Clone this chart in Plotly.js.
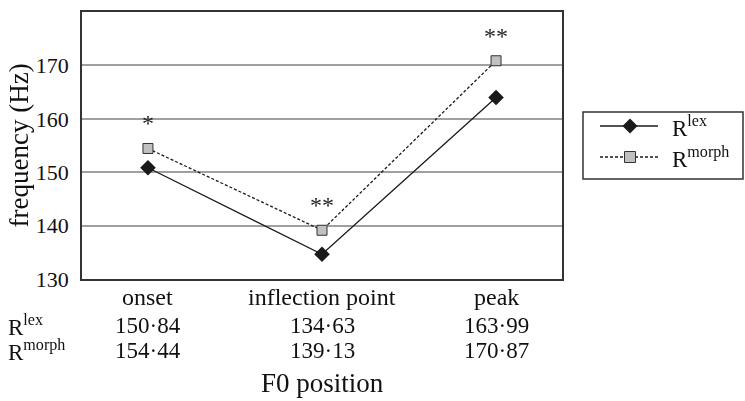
<!DOCTYPE html>
<html>
<head>
<meta charset="utf-8">
<script src="https://cdn.plot.ly/plotly-3.0.1.min.js"></script>
<style>
html,body{margin:0;padding:0;background:#fff;}
#chart{width:745px;height:401px;}
#chart .main-svg{opacity:0.999;will-change:opacity;}
#chart .modebar, #chart .modebar-container{opacity:0 !important;}
</style>
</head>
<body>
<div id="chart"></div>
<script>
const categories = ["onset", "inflection point", "peak"];
const rLex = [150.84, 134.63, 163.99];
const rMorph = [154.44, 139.13, 170.87];
const significance = ["*", "**", "**"];
const seriesNames = ["R<sup>lex</sup>", "R<sup>morph</sup>"];
const yTicks = [130, 140, 150, 160, 170, 180];

const FONT = "Liberation Serif";
const TXT = "#111111";
const xIdx = categories.map((c, i) => i);
const fmt = v => v.toFixed(2).replace('.', '\u00B7');

const PL = 82, PR = 562, PT = 12, PB = 279;
const px = x => (x - PL) / (PR - PL);
const py = y => (PB - y) / (PB - PT);

const traces = [
  {x: xIdx, y: rLex, name: seriesNames[0], type: "scatter", mode: "lines+markers",
    line: {color: "#1a1a1a", width: 1.3}, marker: {symbol: "diamond", size: 12, color: "#1a1a1a", line: {width: 0}}},
  {x: xIdx, y: rMorph, name: seriesNames[1], type: "scatter", mode: "lines+markers",
    line: {color: "#1a1a1a", width: 1.3, dash: "3px,2px"},
    marker: {symbol: "square", size: 10, color: "#c0c0c0", line: {color: "#333", width: 1}}}
];

const annotations = [];
categories.forEach((c, i) => {
  annotations.push({x: i, y: rMorph[i], xref: "x", yref: "y", text: significance[i],
    showarrow: false, yshift: 25, font: {family: FONT, size: 24, color: "#222222"}});
});
const rowY = [py(297), py(325), py(350)];
categories.forEach((c, i) => {
  annotations.push({x: i, y: rowY[0], xref: "x", yref: "paper", text: c, showarrow: false,
    yanchor: "middle", font: {family: FONT, size: 24, color: TXT}});
  annotations.push({x: i, y: rowY[1], xref: "x", yref: "paper", text: fmt(rLex[i]), showarrow: false,
    yanchor: "middle", font: {family: FONT, size: 23, color: TXT}});
  annotations.push({x: i, y: rowY[2], xref: "x", yref: "paper", text: fmt(rMorph[i]), showarrow: false,
    yanchor: "middle", font: {family: FONT, size: 23, color: TXT}});
});
annotations.push({x: px(6), y: rowY[1], xref: "paper", yref: "paper", xanchor: "left", text: seriesNames[0],
  showarrow: false, yanchor: "middle", font: {family: FONT, size: 23, color: TXT}});
annotations.push({x: px(6), y: rowY[2], xref: "paper", yref: "paper", xanchor: "left", text: seriesNames[1],
  showarrow: false, yanchor: "middle", font: {family: FONT, size: 23, color: TXT}});
annotations.push({x: 0.5, y: py(383), xref: "paper", yref: "paper", text: "F0 position", showarrow: false,
  yanchor: "middle", font: {family: FONT, size: 27, color: TXT}});
annotations.push({x: px(18), y: 0.5, xref: "paper", yref: "paper", text: "frequency (Hz)", textangle: -90,
  showarrow: false, xanchor: "center", yanchor: "middle", font: {family: FONT, size: 27, color: TXT}});

const legRows = [126, 157];
annotations.push({x: px(670), y: py(legRows[0]), xref: "paper", yref: "paper", xanchor: "left", yanchor: "middle",
  text: seriesNames[0], showarrow: false, font: {family: FONT, size: 23, color: TXT}});
annotations.push({x: px(670), y: py(legRows[1]), xref: "paper", yref: "paper", xanchor: "left", yanchor: "middle",
  text: seriesNames[1], showarrow: false, font: {family: FONT, size: 23, color: TXT}});

const shapes = [
  {type: "rect", xref: "paper", yref: "paper", x0: px(583), x1: px(743), y0: py(112), y1: py(179),
    line: {color: "#333", width: 1.5}, fillcolor: "rgba(0,0,0,0)"},
  {type: "line", xref: "paper", yref: "paper", x0: px(600), x1: px(658), y0: py(legRows[0]), y1: py(legRows[0]),
    line: {color: "#1a1a1a", width: 1.3}},
  {type: "line", xref: "paper", yref: "paper", x0: px(600), x1: px(658), y0: py(legRows[1]), y1: py(legRows[1]),
    line: {color: "#1a1a1a", width: 1.3, dash: "3px,2px"}},
  {type: "path", xref: "paper", yref: "paper",
    path: `M${px(622.5)},${py(legRows[0])} L${px(630)},${py(legRows[0]-7.5)} L${px(637.5)},${py(legRows[0])} L${px(630)},${py(legRows[0]+7.5)} Z`,
    fillcolor: "#1a1a1a", line: {width: 0}},
  {type: "rect", xref: "paper", yref: "paper", x0: px(624.5), x1: px(635.5), y0: py(legRows[1]-5.5), y1: py(legRows[1]+5.5),
    fillcolor: "#c0c0c0", line: {color: "#333", width: 1}}
];

const layout = {
  width: 745, height: 401,
  margin: {l: PL, r: 745 - PR, t: PT, b: 401 - PB},
  xaxis: {range: [-0.379, 2.379], showgrid: false, zeroline: false, showticklabels: false,
    showline: true, mirror: true, linecolor: "#333", linewidth: 1.5},
  yaxis: {range: [130, 180], tickvals: yTicks, showgrid: true, gridcolor: "#a0a0a0", gridwidth: 1.5,
    zeroline: false, showline: true, mirror: true, linecolor: "#333", linewidth: 1.5,
    ticklabelstandoff: 7, tickfont: {family: FONT, size: 22, color: TXT}},
  showlegend: false,
  annotations: annotations,
  shapes: shapes
};
Plotly.newPlot("chart", traces, layout);
</script>
</body>
</html>
